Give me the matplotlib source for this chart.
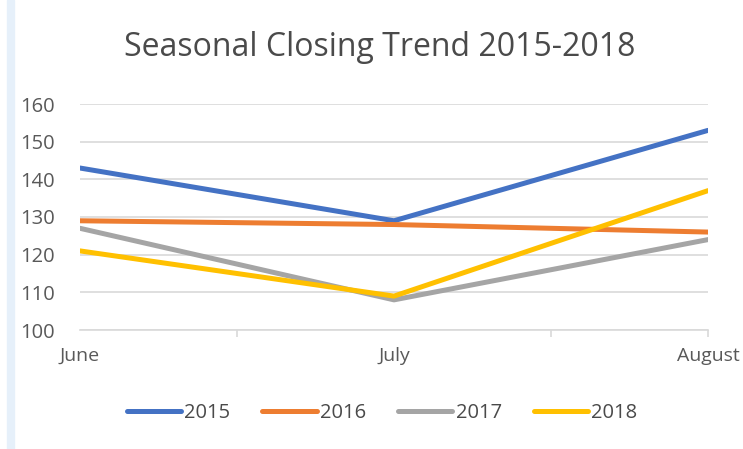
import matplotlib.pyplot as plt
from matplotlib.patches import Rectangle

months = ['June', 'July', 'August']
years = ['2015', '2016', '2017', '2018']
closing_2015 = [143, 129, 153]
closing_2016 = [129, 128, 126]
closing_2017 = [127, 108, 124]
closing_2018 = [121, 109, 137]
colors = ['#4472C4', '#ED7D31', '#A5A5A5', '#FFC000']

plt.rcParams['font.family'] = ['Open Sans', 'DejaVu Sans']

fig = plt.figure(figsize=(7.43, 4.49), dpi=100)
ax = fig.add_axes([80 / 743, 1 - 330 / 449, 628 / 743, 226 / 449])

# light blue strip on the left edge
fig.patches.append(Rectangle((7 / 743, 0), 7 / 743, 1, transform=fig.transFigure,
                             color='#e6f0fa', zorder=-1))

x = list(range(len(months)))
for series, year, c in zip([closing_2015, closing_2016, closing_2017, closing_2018], years, colors):
    ax.plot(x, series, color=c, linewidth=3.6, label=year, solid_capstyle='round')

ax.set_ylim(100, 160)
ax.set_xlim(0, 2)
ax.set_yticks(range(100, 161, 10))
ax.grid(axis='y', color='#d9d9d9', linewidth=1.2)
ax.set_axisbelow(True)
for s in ['top', 'right', 'left']:
    ax.spines[s].set_visible(False)
ax.spines['bottom'].set_color('#d9d9d9')
ax.spines['bottom'].set_linewidth(1.2)

ax.set_xticks([0.5, 1.5, 2])
ax.set_xticklabels([])
ax.tick_params(axis='x', length=5, color='#d9d9d9', width=1.2)
ax.tick_params(axis='y', length=0, pad=18, labelsize=14.5, labelcolor='#595959')
for xi, m in zip(x, months):
    ax.text(xi, 95.5, m, ha='center', va='top', fontsize=14, color='#595959',
            transform=ax.transData)

fig.text(380 / 743, 1 - 48 / 449, 'Seasonal Closing Trend 2015-2018', ha='center', va='center',
         fontsize=23, color='#4a4a4a')

leg = fig.legend(loc='center', bbox_to_anchor=(382 / 743, 1 - 413 / 449), ncol=4,
                 frameon=False, fontsize=14.5, handlelength=2.7, columnspacing=1.6,
                 handletextpad=0.15)
for t in leg.get_texts():
    t.set_color('#4a4a4a')

fig.savefig('out.png', dpi=100)
